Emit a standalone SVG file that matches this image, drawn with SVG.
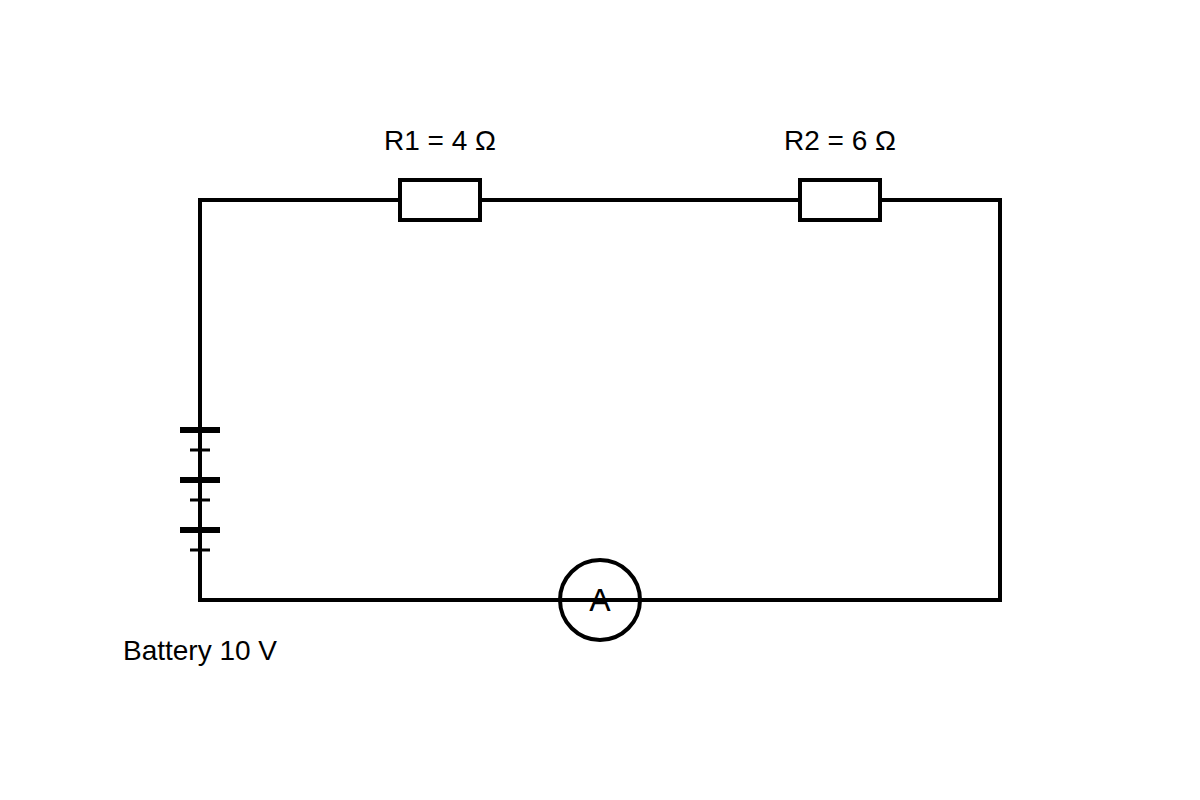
<svg xmlns="http://www.w3.org/2000/svg" width="1200" height="800" viewBox="0 0 1200 800">
<style>
.w{fill:none;stroke:#000;stroke-width:4}
.r{fill:#fff;stroke:#000;stroke-width:4}
text{font-family:"Liberation Sans",Arial,sans-serif;font-size:28px;fill:#000}
</style>
<rect width="1200" height="800" fill="#fff"/>
<g id="connectors">
<path class="w" d="M200 200 H1000 V600 H200 Z"/>
</g>
<g id="R1"><rect class="r" x="400" y="180" width="80" height="40"/><text x="440" y="150" text-anchor="middle">R1 = 4 Ω</text></g>
<g id="R2"><rect class="r" x="800" y="180" width="80" height="40"/><text x="840" y="150" text-anchor="middle">R2 = 6 Ω</text></g>
<g id="battery">
<path stroke="#000" stroke-width="6" d="M180 430H220M180 480H220M180 530H220"/>
<path stroke="#000" stroke-width="3" d="M190 450H210M190 500H210M190 550H210"/>
<text x="200" y="660" text-anchor="middle">Battery 10 V</text>
</g>
<g id="ammeter"><circle class="w" cx="600" cy="600" r="40"/><text x="600" y="611" text-anchor="middle" style="font-size:32px">A</text></g>
</svg>
